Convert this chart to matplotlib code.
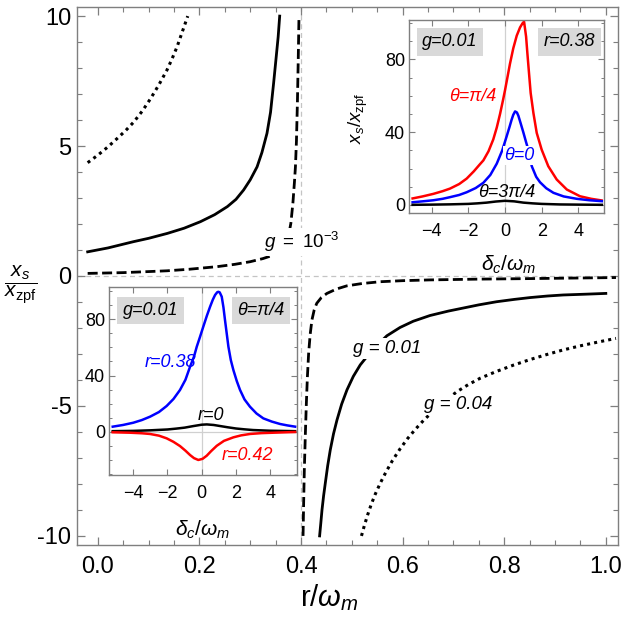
import matplotlib
matplotlib.use("Agg")
import matplotlib.pyplot as plt
from matplotlib.ticker import MultipleLocator

plt.rcParams['font.family'] = ['Liberation Sans', 'DejaVu Sans']
plt.rcParams['mathtext.fontset'] = 'custom'
plt.rcParams['mathtext.rm'] = 'Liberation Sans'
plt.rcParams['mathtext.it'] = 'Liberation Sans:italic'
plt.rcParams['mathtext.bf'] = 'Liberation Sans:bold'

# MAIN PLOT DATA  (r / omega_m  ->  x_s / x_zpf)
# g = 0.04 (dotted)
r_g04_lo = [-0.02, 0.0, 0.02, 0.038, 0.055, 0.071, 0.088, 0.104, 0.12, 0.136, 0.146, 0.156, 0.166, 0.177]
y_g04_lo = [4.36, 4.65, 4.97, 5.29, 5.6, 5.93, 6.36, 6.83, 7.35, 7.92, 8.35, 8.82, 9.38, 10.0]
r_g04_hi = [0.519, 0.525, 0.531, 0.538, 0.546, 0.556, 0.567, 0.58, 0.595, 0.61, 0.625, 0.641, 0.66, 0.68,
            0.707, 0.73, 0.753, 0.785, 0.818, 0.85, 0.884, 0.915, 0.949, 0.985, 1.02]
y_g04_hi = [-10.0, -9.58, -9.2, -8.8, -8.4, -7.97, -7.55, -7.1, -6.65, -6.25, -5.9, -5.56, -5.2, -4.86,
            -4.45, -4.17, -3.93, -3.67, -3.43, -3.22, -3.02, -2.85, -2.69, -2.54, -2.4]

# g = 0.01 (solid)
r_g01_lo = [-0.02, 0.02, 0.07, 0.10, 0.137, 0.17, 0.202, 0.23, 0.255, 0.272, 0.287, 0.30, 0.3135, 0.323,
            0.333, 0.340, 0.346, 0.351, 0.355, 0.358]
y_g01_lo = [0.93, 1.08, 1.32, 1.45, 1.64, 1.84, 2.09, 2.36, 2.67, 2.95, 3.31, 3.7, 4.2, 4.75,
            5.49, 6.3, 7.41, 8.4, 9.2, 10.0]
r_g01_hi = [0.4366, 0.439, 0.4413, 0.4445, 0.4478, 0.4525, 0.4576, 0.464, 0.4708, 0.48, 0.4905, 0.503,
            0.5166, 0.54, 0.569, 0.595, 0.621, 0.654, 0.69, 0.72, 0.75, 0.785, 0.82, 0.851, 0.885,
            0.916, 0.96, 1.0]
y_g01_hi = [-10.0, -9.5, -9.0, -8.45, -7.97, -7.3, -6.69, -6.07, -5.54, -4.93, -4.38, -3.86,
            -3.42, -2.85, -2.3, -1.98, -1.74, -1.52, -1.35, -1.23, -1.11, -0.99, -0.9, -0.83, -0.77,
            -0.73, -0.7, -0.67]

# g = 1e-3 (dashed)
r_g001_lo = [-0.02, 0.05, 0.1, 0.136, 0.18, 0.235, 0.27, 0.30, 0.325, 0.345, 0.36, 0.37, 0.376, 0.380,
             0.384, 0.387, 0.389, 0.391, 0.393, 0.3945, 0.396]
y_g001_lo = [0.10, 0.13, 0.17, 0.20, 0.26, 0.36, 0.45, 0.55, 0.67, 0.8, 0.98, 1.25, 1.6, 2.03,
             2.8, 3.6, 4.2, 5.2, 6.77, 8.3, 10.0]
r_g001_hi = [0.404, 0.4052, 0.4065, 0.4085, 0.4105, 0.4125, 0.415, 0.418, 0.4215, 0.426, 0.431, 0.44,
             0.451, 0.47, 0.49, 0.52, 0.556, 0.6, 0.654, 0.75, 0.85, 1.02]
y_g001_hi = [-10.0, -8.7, -7.46, -6.1, -4.9, -3.9, -2.97, -2.25, -1.69, -1.3, -1.05, -0.83,
             -0.67, -0.5, -0.38, -0.29, -0.22, -0.18, -0.15, -0.12, -0.1, -0.06]

# INSET 1 (top right): g=0.01, r=0.38, various theta
d_pi4 = [-5.04, -4.5, -3.91, -3.4, -3.0, -2.5, -2.09, -1.7, -1.4, -1.18, -0.9, -0.64, -0.45, -0.27, -0.1,
         0.0, 0.15, 0.27, 0.45, 0.64, 0.82, 0.95, 1.04, 1.15, 1.22, 1.31, 1.40, 1.55, 1.73, 2.0, 2.36,
         2.82, 3.37, 4.09, 4.7, 5.27]
x_pi4 = [3.6, 4.7, 6.1, 7.6, 9.0, 11.5, 14.5, 18.5, 22.0, 24.5, 29.5, 36.0, 42.5, 50.0, 58.0,
         63.0, 71.0, 77.5, 86.0, 93.0, 97.5, 99.7, 100.7, 92.5, 83.4, 72.4, 61.5, 50.5, 39.6, 30.4, 21.3,
         14.0, 8.5, 4.8, 3.4, 2.5]
d_th0 = [-5.04, -4.5, -3.91, -3.4, -3.0, -2.5, -2.09, -1.6, -1.18, -0.8, -0.45, -0.15, 0.09, 0.25, 0.36,
         0.45, 0.55, 0.65, 0.73, 0.85, 1.0, 1.15, 1.27, 1.46, 1.7, 1.91, 2.25, 2.64, 3.2, 3.91, 4.6, 5.28]
x_th0 = [1.5, 2.0, 2.6, 3.4, 4.3, 5.5, 7.0, 9.3, 12.2, 16.5, 22.7, 30.0, 37.7, 43.0, 46.8,
         49.5, 51.4, 50.8, 49.0, 45.0, 39.9, 34.5, 30.4, 21.3, 15.5, 12.5, 9.2, 6.7, 4.7, 3.4, 2.6, 2.1]
d_3pi4 = [-5.04, -4.0, -3.0, -2.0, -1.5, -1.0, -0.5, 0.0, 0.5, 1.0, 1.5, 2.0, 3.0, 4.0, 5.28]
x_3pi4 = [0.1, 0.2, 0.35, 0.6, 0.9, 1.3, 1.9, 2.3, 2.0, 1.3, 0.9, 0.6, 0.3, 0.2, 0.1]

# INSET 2 (bottom left): g=0.01, theta=pi/4, various r
d_r38 = [-5.2, -4.6, -4.0, -3.5, -3.02, -2.5, -2.05, -1.65, -1.27, -0.95, -0.68, -0.45, -0.29, -0.1, 0.09,
         0.3, 0.49, 0.65, 0.78, 0.9, 0.97, 1.05, 1.17, 1.27, 1.36, 1.46, 1.56, 1.7, 1.85, 2.05, 2.24,
         2.5, 2.82, 3.2, 3.6, 4.1, 4.58, 5.0, 5.46]
x_r38 = [3.6, 4.8, 6.4, 8.3, 10.7, 14.0, 18.3, 23.3, 29.7, 37.0, 46.3, 53.5, 60.5, 67.5, 74.7,
         82.5, 89.0, 94.0, 97.3, 99.2, 99.6, 99.2, 96.1, 88.5, 79.5, 70.0, 60.5, 51.0, 43.9, 36.0, 29.7,
         23.0, 17.8, 13.0, 9.5, 7.2, 5.5, 4.5, 3.6]
d_r0 = [-5.2, -4.0, -3.0, -2.0, -1.5, -1.0, -0.5, 0.0, 0.3, 0.7, 1.0, 1.5, 2.0, 2.5, 3.0, 4.0, 5.46]
x_r0 = [0.4, 0.6, 1.0, 1.6, 2.2, 2.9, 4.0, 5.0, 5.2, 4.8, 4.2, 3.2, 2.3, 1.7, 1.2, 0.7, 0.4]
d_r42 = [-5.2, -4.2, -3.5, -3.02, -2.5, -2.05, -1.65, -1.27, -0.95, -0.68, -0.45, -0.2, 0.05, 0.29,
         0.55, 0.88, 1.3, 1.85, 2.3, 2.82, 3.5, 4.19, 5.46]
x_r42 = [-0.4, -0.7, -1.1, -1.6, -2.8, -4.7, -7.2, -10.2, -13.5, -16.6, -18.8, -20.1, -19.3, -17.1,
         -13.8, -10.0, -6.5, -4.0, -2.6, -1.6, -1.0, -0.7, -0.2]

main_xticks = [0.0, 0.2, 0.4, 0.6, 0.8, 1.0]
main_xlabels = ['0.0', '0.2', '0.4', '0.6', '0.8', '1.0']
main_yticks = [-10, -5, 0, 5, 10]
main_ylabels = ['-10', '-5', '0', '5', '10']

W, H = 625, 621
fig = plt.figure(figsize=(W / 100, H / 100), dpi=100)

def box(l, t, r, b):
    return [l / W, 1 - b / H, (r - l) / W, (b - t) / H]

frame = '#7f7f7f'

# ---- main axes
ax = fig.add_axes(box(77, 7, 618, 545))
ax.set_xlim(-0.041, 1.024)
ax.set_ylim(-10.35, 10.35)
ax.axvline(0.4, color='#c4c4c4', lw=0.9, dashes=(4, 3), zorder=1)
ax.axhline(0.0, color='#c4c4c4', lw=0.9, dashes=(4, 3), zorder=1)

dot = dict(color='black', lw=2.2, dashes=(1, 1.35))
dsh = dict(color='black', lw=2.0, dashes=(3.6, 1.6))
sol = dict(color='black', lw=2.0)
ax.plot(r_g04_lo, y_g04_lo, **dot)
ax.plot(r_g04_hi, y_g04_hi, **dot)
ax.plot(r_g01_lo, y_g01_lo, **sol)
ax.plot(r_g01_hi, y_g01_hi, **sol)
ax.plot(r_g001_lo, y_g001_lo, **dsh)
ax.plot(r_g001_hi, y_g001_hi, **dsh)

wbox = dict(boxstyle='square,pad=0.1', fc='white', ec='none')
ax.text(0.401, 1.3, r'$\mathit{g\ =\ 10^{-3}}$', fontsize=13.5, ha='center', va='center', bbox=wbox, zorder=5)
ax.text(0.569, -2.8, 'g = 0.01', style='italic', fontsize=13.5, ha='center', va='center', bbox=wbox, zorder=5)
ax.text(0.709, -4.96, 'g = 0.04', style='italic', fontsize=13.5, ha='center', va='center', bbox=wbox, zorder=5)

ax.set_xticks(main_xticks)
ax.set_xticklabels(main_xlabels)
ax.set_yticks(main_yticks)
ax.set_yticklabels(main_ylabels)
ax.xaxis.set_minor_locator(MultipleLocator(0.05))
ax.yaxis.set_minor_locator(MultipleLocator(1))
ax.tick_params(which='both', direction='in', top=True, right=True, color=frame)
ax.tick_params(which='major', length=6, width=0.9, labelsize=17)
ax.tick_params(which='minor', length=3.5, width=0.8)
ax.tick_params(axis='x', pad=8)
ax.tick_params(axis='y', pad=4)
for s in ax.spines.values():
    s.set_color(frame)
    s.set_linewidth(1.0)

fig.text(329 / W, 1 - 598 / H, r'r$/\omega_m$', fontsize=21, ha='center', va='center')
fig.text(21 / W, 1 - 285 / H, r'$\dfrac{x_s}{x_{\mathrm{zpf}}}$', fontsize=15, ha='center', va='center')

gbox = dict(boxstyle='square,pad=0.3', fc='#d9d9d9', ec='none')

def style_inset(a, xlim, ylim):
    a.set_xlim(*xlim)
    a.set_ylim(*ylim)
    a.set_facecolor('white')
    a.set_xticks([-4, -2, 0, 2, 4])
    a.set_yticks([0, 40, 80])
    a.yaxis.set_minor_locator(MultipleLocator(10))
    a.tick_params(which='both', direction='in', top=True, right=True, color=frame)
    a.tick_params(which='major', length=4, width=0.8, labelsize=13)
    a.tick_params(which='minor', length=2.5, width=0.7)
    a.tick_params(axis='x', pad=7)
    a.tick_params(axis='y', pad=3)
    for s in a.spines.values():
        s.set_color(frame)
        s.set_linewidth(1.0)
    a.axvline(0, color='#d0d0d0', lw=0.9, zorder=0)

# ---- inset 1 (top right)
a1 = fig.add_axes(box(409.3, 20, 604, 213))
style_inset(a1, (-5.22, 5.4), (-4.4, 101.6))
a1.plot(d_pi4, x_pi4, color='#ff0000', lw=1.8)
a1.plot(d_th0, x_th0, color='#0000ff', lw=1.8)
a1.plot(d_3pi4, x_3pi4, color='black', lw=1.8)
a1.text(-3.0, 89.6, 'g=0.01', style='italic', fontsize=13, ha='center', va='center', bbox=gbox)
a1.text(3.52, 89.6, 'r=0.38', style='italic', fontsize=13, ha='center', va='center', bbox=gbox)
a1.text(-1.77, 59.5, 'θ=π/4', style='italic', fontsize=13, color='#ff0000', ha='center', va='center')
a1.text(0.79, 27, 'θ=0', style='italic', fontsize=13, color='#0000ff', ha='center', va='center',
        bbox=dict(boxstyle='square,pad=0.05', fc='white', ec='none'))
a1.text(0.08, 6.8, 'θ=3π/4', style='italic', fontsize=13, color='black', ha='center', va='center')
fig.text(509 / W, 1 - 265 / H, r'$\delta_c/\omega_m$', fontsize=15, ha='center', va='center')
fig.text(358 / W, 1 - 118 / H, r'$x_s/x_{\mathrm{zpf}}$', fontsize=13.5, rotation=90, ha='center', va='center')

# ---- inset 2 (bottom left)
a2 = fig.add_axes(box(109.3, 287, 296.7, 475))
style_inset(a2, (-5.4, 5.55), (-30.8, 103))
a2.axhline(0, color='#d0d0d0', lw=0.9, zorder=0)
a2.plot(d_r38, x_r38, color='#0000ff', lw=1.8)
a2.plot(d_r0, x_r0, color='black', lw=1.8)
a2.plot(d_r42, x_r42, color='#ff0000', lw=1.8)
a2.text(-3.0, 86.3, 'g=0.01', style='italic', fontsize=13, ha='center', va='center', bbox=gbox)
a2.text(3.47, 86.3, 'θ=π/4', style='italic', fontsize=13, ha='center', va='center', bbox=gbox)
a2.text(-1.82, 49.6, 'r=0.38', style='italic', fontsize=13, color='#0000ff', ha='center', va='center')
a2.text(0.54, 11.9, 'r=0', style='italic', fontsize=13, color='black', ha='center', va='center')
a2.text(2.68, -16.6, 'r=0.42', style='italic', fontsize=13, color='#ff0000', ha='center', va='center')
fig.text(203 / W, 1 - 530 / H, r'$\delta_c/\omega_m$', fontsize=15, ha='center', va='center')

fig.savefig('out.png', dpi=100)
